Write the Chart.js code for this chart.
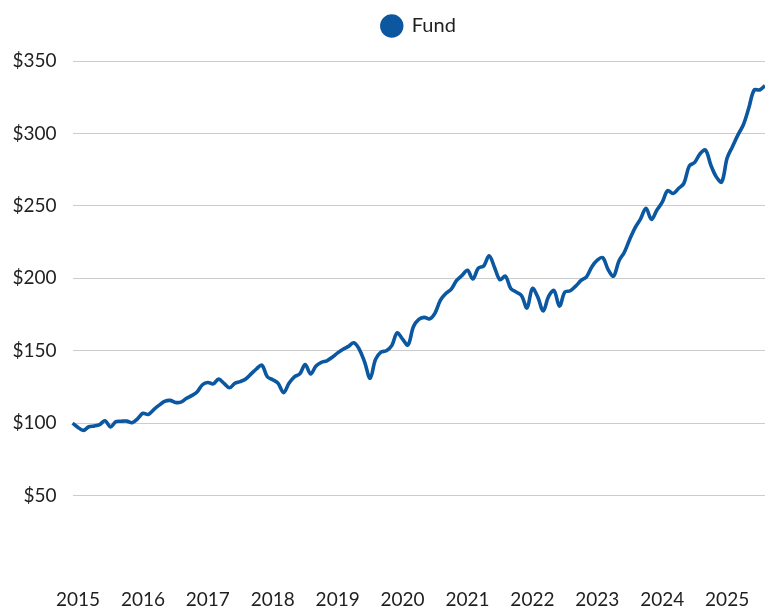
<!DOCTYPE html>
<html>
<head>
<meta charset="utf-8">
<script src="https://cdn.jsdelivr.net/npm/chart.js@4"></script>
<style>
    html, body { margin: 0; padding: 0; background: #ffffff; }
    #wrap { width: 765px; height: 608px; }
</style>
</head>
<body>
<div id="wrap"><canvas id="fund-chart"></canvas></div>
<script>
const blue = "#0b57a0"  //line
const grid_color = "#cccccc"  //grey
const text_color = "#1f1f1f"

// data: month-end values, Dec 2014 .. Aug 2025
const start_year = 2014
const start_month = 12
const year_ticks = ["2015", "2016", "2017", "2018", "2019", "2020", "2021", "2022", "2023", "2024", "2025"]
const fund_values = [
    100,
    97, 95, 97.5, 98, 99, 101.6, 97.4, 101, 101.3, 101.4, 100.3, 103,
    106.8, 106, 109.4, 112.4, 115, 115.7, 114.3, 114.5, 117, 119, 121.5, 126.5,
    128.1, 127.1, 130.4, 127.4, 124.4, 127.5, 128.7, 130.5, 134, 137.5, 140, 132,
    130, 127.5, 121, 127.5, 132, 134, 140.5, 134, 139.5, 142, 143, 145.5,
    148.5, 151, 153, 155.5, 151, 142, 131, 144, 149, 150, 153.5, 162.4,
    158, 154, 166.5, 171.6, 173, 172, 176, 185, 189.5, 192.5, 198.5, 202,
    205.5, 199.5, 207, 208.5, 215.5, 207.5, 199, 201.5, 193, 190.5, 188, 179.5,
    193, 187, 177.5, 187.5, 191.5, 180.8, 190.5, 191.4, 194.6, 198.5, 201, 208,
    212.5, 214.2, 206, 201.5, 212, 218, 227, 235, 241, 248.3, 240.7, 247,
    252.5, 260.5, 258.5, 262, 265.5, 277.5, 280, 286, 288.5, 278, 270, 266.5,
    283, 291, 299, 306, 317.5, 330, 330, 333
]

// month labels "YYYY-MM" matching the values
const month_labels = []
let yy = start_year, mm = start_month
for (let i = 0; i < fund_values.length; i++) {
    month_labels.push(yy + "-" + String(mm).padStart(2, "0"))
    mm++
    if (mm > 12) { mm = 1; yy++ }
}

Chart.defaults.font.family = "Lato, 'Noto Sans', sans-serif"
Chart.defaults.font.size = 19
Chart.defaults.color = text_color

const ctx = document.getElementById('fund-chart')
new Chart(ctx, {
    type: "line",
    data: {
        labels: month_labels,
        datasets: [{
            label: "Fund",
            data: fund_values,
            borderColor: blue,
            backgroundColor: blue,
            borderWidth: 3.6,
            pointRadius: 0,
            tension: 0.35,
            fill: false,
        }]
    },
    options: {
        responsive: true,
        maintainAspectRatio: false,
        animation: false,
        layout: { padding: { top: 6, right: 0, left: 0, bottom: 0 } },
        plugins: {
            legend: {
                fullSize: false,  // centre over the plot area
                labels: {
                    usePointStyle: true,
                    pointStyle: 'circle',
                    boxHeight: 14,
                    color: text_color,
                    padding: 10,
                    font: { size: 20 }
                }
            },
            tooltip: { enabled: false },
        },
        scales: {
            x: {
                grid: { display: false, drawTicks: false },
                border: { display: false },
                ticks: {
                    autoSkip: false,
                    maxRotation: 0,
                    padding: 20,
                    callback: function(value, index) {
                        const lab = month_labels[index]
                        const y = lab.slice(0, 4)
                        return (lab.slice(5) == "01" && year_ticks.includes(y)) ? y : null
                    }
                },
                afterFit(scale) {
                    scale.height = 40
                    scale.paddingLeft = 0
                    scale.paddingRight = 0  //let the line run to the right edge
                }
            },
            y: {
                min: 0,
                max: 350,
                border: { display: false },
                grid: {
                    drawTicks: false,
                    color: (c) => c.tick && c.tick.value == 0 ? "rgba(0,0,0,0)" : grid_color,
                },
                ticks: {
                    stepSize: 50,
                    padding: 16,
                    callback: (v) => v == 0 ? "" : "$" + v,
                },
                afterFit(scale) { scale.width = 72.6 }
            }
        },
    },
    // push plot area down below the legend
    plugins: [{
        id: 'legendMargin',
        beforeInit(chart) {
            const fitValue = chart.legend.fit
            chart.legend.fit = function fit() {
                fitValue.bind(chart.legend)()
                return this.height += 15
            }
        }
    }]
});
</script>
</body>
</html>
